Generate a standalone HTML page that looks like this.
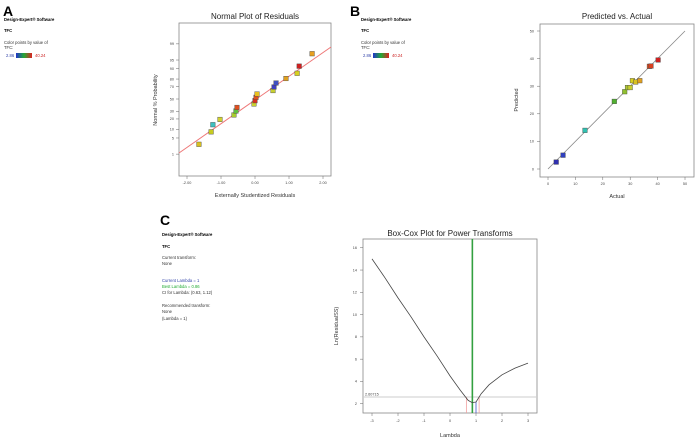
<!DOCTYPE html>
<html><head><meta charset="utf-8"><style>
html,body{margin:0;padding:0;background:#fff;}
svg{display:block;font-family:"Liberation Sans",sans-serif;}
</style></head><body>
<svg id="s" width="696" height="439" viewBox="0 0 696 439">
<defs><linearGradient id="cg" x1="0" x2="1"><stop offset="0" stop-color="#2233cc"/><stop offset="0.5" stop-color="#22aa33"/><stop offset="1" stop-color="#dd2222"/></linearGradient></defs>
<!-- Panel A info -->
<g>
<text x="3" y="16" font-size="14" font-weight="bold">A</text>
<text x="4" y="21" font-size="4.2" font-weight="bold">Design-Expert® Software</text>
<text x="4" y="32" font-size="4.2" font-weight="bold">TFC</text>
<text x="4" y="44" font-size="4.2" fill="#333">Color points by value of</text>
<text x="4" y="49" font-size="4.2" fill="#333">TFC:</text>
<text x="6" y="57" font-size="4.2" fill="#3344aa">2.86</text>
<rect x="16" y="53" width="16" height="5" fill="url(#cg)"/>
<text x="35" y="57" font-size="4.2" fill="#cc2222">40.24</text>
</g>
<g>
<text x="350" y="16" font-size="14" font-weight="bold">B</text>
<text x="361" y="21" font-size="4.2" font-weight="bold">Design-Expert® Software</text>
<text x="361" y="32" font-size="4.2" font-weight="bold">TFC</text>
<text x="361" y="44" font-size="4.2" fill="#333">Color points by value of</text>
<text x="361" y="49" font-size="4.2" fill="#333">TFC:</text>
<text x="363" y="57" font-size="4.2" fill="#3344aa">2.86</text>
<rect x="373" y="53" width="16" height="5" fill="url(#cg)"/>
<text x="392" y="57" font-size="4.2" fill="#cc2222">40.24</text>
</g>
<g>
<text x="160" y="225" font-size="14" font-weight="bold">C</text>
<text x="162" y="236" font-size="4.2" font-weight="bold">Design-Expert® Software</text>
<text x="162" y="248" font-size="4.2" font-weight="bold">TFC</text>
<text x="162" y="259" font-size="4.2" fill="#333">Current transform:</text>
<text x="162" y="265" font-size="4.2" fill="#333">None</text>
<text x="162" y="282" font-size="4.2" fill="#3344aa">Current Lambda = 1</text>
<text x="162" y="288" font-size="4.2" fill="#22aa33">Best Lambda = 0.86</text>
<text x="162" y="294" font-size="4.2" fill="#333">CI for Lambda: (0.63, 1.12)</text>
<text x="162" y="307" font-size="4.2" fill="#333">Recommended transform:</text>
<text x="162" y="313" font-size="4.2" fill="#333">None</text>
<text x="162" y="320" font-size="4.2" fill="#333">(Lambda = 1)</text>
</g>
<g id="ga"></g>
<g id="gb"></g>
<g id="gc"></g>
</svg>
<script>
// Chart A data
const aResiduals=[-1.65,-1.29,-1.24,-1.03,-0.62,-0.56,-0.53,-0.03,0.00,0.03,0.06,0.53,0.56,0.62,0.91,1.24,1.30,1.68];
const aProbs=[2.8,8.3,13.9,19.4,25,30.6,36.1,41.7,47.2,52.8,58.3,63.9,69.4,75,80.6,86.1,91.7,97.2];
const aColors=["#d8c020","#c8cc20","#40c0c0","#d0d030","#a8cc30","#60c040","#e05020","#c8d030","#d83020","#e05020","#e8c020","#c8d030","#4040c0","#4050c0","#e0a020","#d8d020","#d02020","#e8a020"];
const aXTicks=[-2,-1,0,1,2];
const aXTickLabels=["-2.00","-1.00","0.00","1.00","2.00"];
const aYTicks=[1,5,10,20,30,50,70,80,90,95,99];
// Chart B data
const bActual=[3,5.5,13.5,24.2,28,29,30,30.8,32,33.5,37,37.6,40.2];
const bPred=[2.5,5,14,24.5,28,29.5,29.5,32,31.5,32,37.2,37.3,39.5];
const bColors=["#3030b0","#3040c0","#30c0b0","#50b030","#90c030","#b0c830","#c8d030","#d8d020","#d8c020","#e0a020","#e05020","#d84020","#d02020"];
const bTicks=[0,10,20,30,40,50];
// Chart C data
const cLambda=[-3,-2.5,-2,-1.5,-1,-0.5,0,0.4,0.7,0.85,1,1.2,1.5,2,2.5,3];
const cLnRSS=[15,13.3,11.5,9.8,8.0,6.3,4.5,3.2,2.3,2.1,2.15,2.9,3.7,4.6,5.2,5.65];
const cXTicks=[-3,-2,-1,0,1,2,3];
const cYTicks=[2,4,6,8,10,12,14,16];
const cBest=0.86, cCurrent=1, cCILow=0.63, cCIHigh=1.12, cThreshold=2.60715;

const NS="http://www.w3.org/2000/svg";
function mk(p,t,a,txt){const e=document.createElementNS(NS,t);for(const k in a)e.setAttribute(k,a[k]);if(txt!==undefined)e.textContent=txt;p.appendChild(e);return e;}
function invN(p){// Acklam approximation
const a=[-39.6968302866538,220.946098424521,-275.928510446969,138.357751867269,-30.6647980661472,2.50662827745924],b=[-54.4760987982241,161.585836858041,-155.698979859887,66.8013118877197,-13.2806815528857],c=[-0.00778489400243029,-0.322396458041136,-2.40075827716184,-2.54973253934373,4.37466414146497,2.93816398269878],d=[0.00778469570904146,0.32246712907004,2.445134137143,3.75440866190742];
let q,r;if(p<0.02425){q=Math.sqrt(-2*Math.log(p));return(((((c[0]*q+c[1])*q+c[2])*q+c[3])*q+c[4])*q+c[5])/((((d[0]*q+d[1])*q+d[2])*q+d[3])*q+1);}
if(p>1-0.02425){q=Math.sqrt(-2*Math.log(1-p));return-(((((c[0]*q+c[1])*q+c[2])*q+c[3])*q+c[4])*q+c[5])/((((d[0]*q+d[1])*q+d[2])*q+d[3])*q+1);}
q=p-0.5;r=q*q;return(((((a[0]*r+a[1])*r+a[2])*r+a[3])*r+a[4])*r+a[5])*q/(((((b[0]*r+b[1])*r+b[2])*r+b[3])*r+b[4])*r+1);}

// ---- Chart A ----
(function(){
const g=document.getElementById('ga');
const L=179,R=331,T=23,B=176;
const xs=v=>255+v*34, ys=p=>99-invN(p/100)*23.7;
mk(g,'text',{x:255,y:19,'font-size':8,'text-anchor':'middle',fill:'#222'},'Normal Plot of Residuals');
const fr=mk(g,'rect',{x:L,y:T,width:R-L,height:B-T,fill:'none',stroke:'#888','stroke-width':0.8});


aXTicks.forEach((t,i)=>{mk(g,'line',{x1:xs(t),x2:xs(t),y1:B,y2:B+3,stroke:'#666','stroke-width':0.5});
const tl=mk(g,'text',{x:xs(t),y:B+8,'font-size':3.8,'text-anchor':'middle',fill:'#444'},aXTickLabels[i]);

});
aYTicks.forEach(t=>{mk(g,'line',{x1:L-3,x2:L,y1:ys(t),y2:ys(t),stroke:'#666','stroke-width':0.5});
const tl=mk(g,'text',{x:L-5,y:ys(t)+1.3,'font-size':3.8,'text-anchor':'end',fill:'#444'},String(t));

});
const xl=mk(g,'text',{x:255,y:197,'font-size':5.5,'text-anchor':'middle',fill:'#333'},'Externally Studentized Residuals');


const yl=mk(g,'text',{x:157,y:100,'font-size':5.5,'text-anchor':'middle',fill:'#333',transform:'rotate(-90 157 100)'},'Normal % Probability');


const fl=mk(g,'line',{x1:L,y1:153,x2:R,y2:47,stroke:'#ee7777','stroke-width':1});


aResiduals.forEach((r,i)=>{const x=xs(r),y=ys(aProbs[i]);
const p=mk(g,'rect',{x:x-2.3,y:y-2.3,width:4.6,height:4.6,fill:aColors[i],stroke:'#444','stroke-width':0.4});

});
})();

// ---- Chart B ----
(function(){
const g=document.getElementById('gb');
const L=540,R=694,T=24,B=177;
const xs=v=>548+v*2.74, ys=v=>169-v*2.76;
mk(g,'text',{x:617,y:19,'font-size':8,'text-anchor':'middle',fill:'#222'},'Predicted vs. Actual');
const fr=mk(g,'rect',{x:L,y:T,width:R-L,height:B-T,fill:'none',stroke:'#888','stroke-width':0.8});


bTicks.forEach(t=>{mk(g,'line',{x1:xs(t),x2:xs(t),y1:B,y2:B+3,stroke:'#666','stroke-width':0.5});
const tl=mk(g,'text',{x:xs(t),y:B+8,'font-size':3.8,'text-anchor':'middle',fill:'#444'},String(t));


mk(g,'line',{x1:L-3,x2:L,y1:ys(t),y2:ys(t),stroke:'#666','stroke-width':0.5});
const yl=mk(g,'text',{x:L-6,y:ys(t)+1.3,'font-size':3.8,'text-anchor':'end',fill:'#444'},String(t));

});
const xl=mk(g,'text',{x:617,y:198,'font-size':5.5,'text-anchor':'middle',fill:'#333'},'Actual');


const yl=mk(g,'text',{x:518,y:100,'font-size':5.5,'text-anchor':'middle',fill:'#333',transform:'rotate(-90 518 100)'},'Predicted');


const dl=mk(g,'line',{x1:xs(0),y1:ys(0),x2:xs(50),y2:ys(50),stroke:'#888','stroke-width':0.8});


bActual.forEach((a,i)=>{const x=xs(a),y=ys(bPred[i]);
const p=mk(g,'rect',{x:x-2.3,y:y-2.3,width:4.6,height:4.6,fill:bColors[i],stroke:'#444','stroke-width':0.4});

});
})();

// ---- Chart C ----
(function(){
const g=document.getElementById('gc');
const L=363,R=537,T=239,B=413;
const xs=v=>450+v*26, ys=v=>426-v*11.14;
mk(g,'text',{x:450,y:236,'font-size':8,'text-anchor':'middle',fill:'#222'},'Box-Cox Plot for Power Transforms');
const fr=mk(g,'rect',{x:L,y:T,width:R-L,height:B-T,fill:'none',stroke:'#888','stroke-width':0.8});


cXTicks.forEach(t=>{mk(g,'line',{x1:xs(t),x2:xs(t),y1:B,y2:B+3,stroke:'#666','stroke-width':0.5});
const tl=mk(g,'text',{x:xs(t),y:B+9,'font-size':3.8,'text-anchor':'middle',fill:'#444'},String(t));

});
cYTicks.forEach(t=>{mk(g,'line',{x1:L-3,x2:L,y1:ys(t),y2:ys(t),stroke:'#666','stroke-width':0.5});
const tl=mk(g,'text',{x:L-6,y:ys(t)+1.3,'font-size':3.8,'text-anchor':'end',fill:'#444'},String(t));

});
const xl=mk(g,'text',{x:450,y:437,'font-size':5.5,'text-anchor':'middle',fill:'#333'},'Lambda');


const yl=mk(g,'text',{x:338,y:326,'font-size':5.5,'text-anchor':'middle',fill:'#333',transform:'rotate(-90 338 326)'},'Ln(ResidualSS)');


const th=mk(g,'line',{x1:L,x2:R,y1:ys(cThreshold),y2:ys(cThreshold),stroke:'#ccc','stroke-width':1});


const tt=mk(g,'text',{x:L+2,y:ys(cThreshold)-1.5,'font-size':3.8,fill:'#444'},cThreshold.toFixed(5));


[cCILow,cCIHigh].forEach(v=>{const c=mk(g,'line',{x1:xs(v),x2:xs(v),y1:ys(cThreshold),y2:B,stroke:'#f0a0a0','stroke-width':0.8});

});
const cu=mk(g,'line',{x1:xs(cCurrent),x2:xs(cCurrent),y1:ys(2.15),y2:B,stroke:'#4455cc','stroke-width':0.8});


const be=mk(g,'line',{x1:xs(cBest),x2:xs(cBest),y1:T,y2:B,stroke:'#33a040','stroke-width':1.6});


const pts=cLambda.map((l,i)=>xs(l).toFixed(1)+','+ys(cLnRSS[i]).toFixed(1)).join(' ');
const cv=mk(g,'polyline',{points:pts,fill:'none',stroke:'#444','stroke-width':0.8});


})();
</script>
</body></html>
